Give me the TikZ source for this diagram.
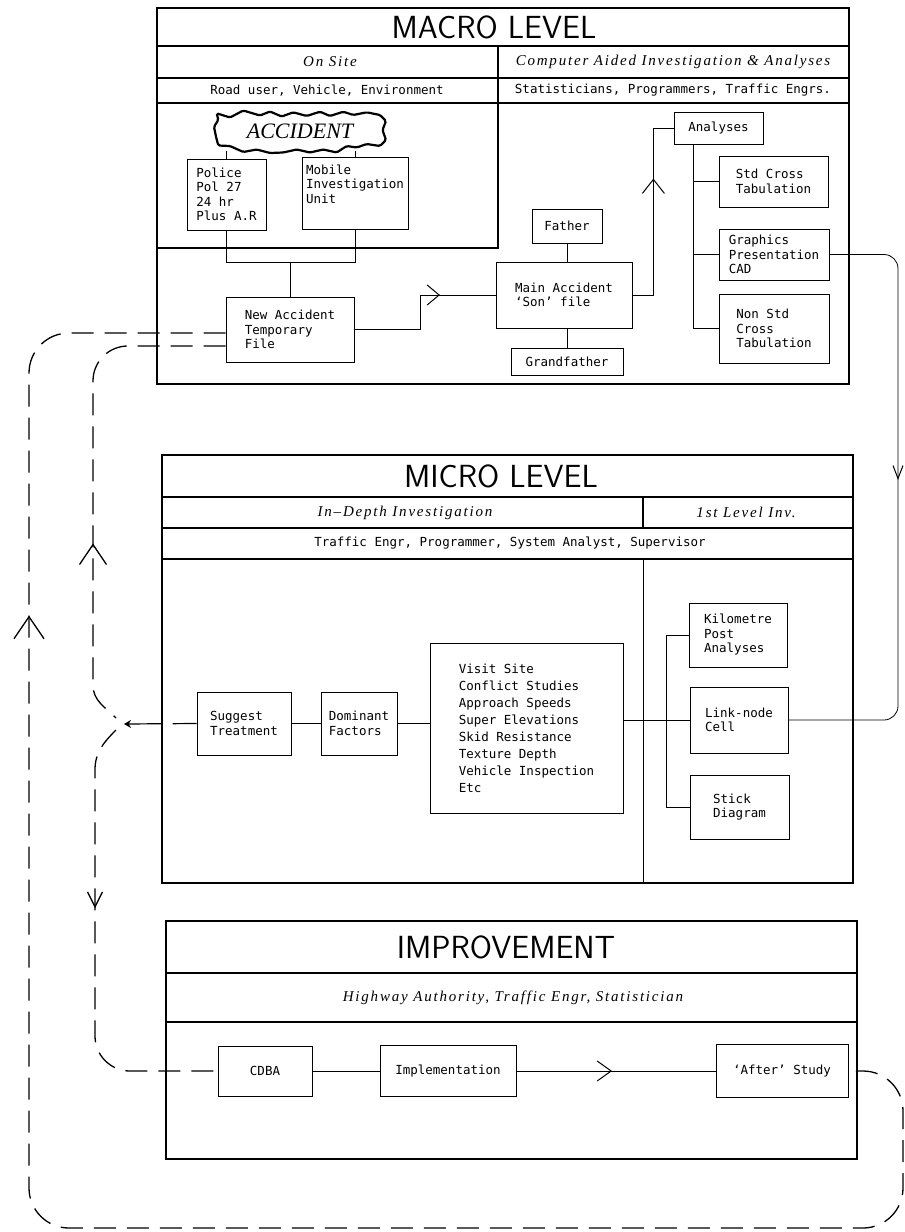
\documentclass[tikz,border=0pt]{standalone}
\usepackage{fontspec}
\newfontfamily\cadfont{DejaVu Sans Mono}
\newfontfamily\subfont[LetterSpace=12]{Liberation Serif}
\newfontfamily\bigfont{Liberation Serif}
\usetikzlibrary{arrows.meta,decorations.markings,calc}
\tikzset{frm/.style={line width=1.8pt},
rowln/.style={line width=1.1pt},
lnk/.style={line width=0.8pt},
dsh/.style={line width=1.3pt, dash pattern=on 22pt off 11pt},
blk/.style 2 args={draw, line width=0.8pt, minimum width=#1, minimum height=#2,
  inner sep=0pt, align=left, font=\cadfont\fontsize{12.5}{14.5}\selectfont},
ttl/.style={font=\sffamily\fontsize{32}{34}\selectfont},
sub/.style={font=\subfont\itshape\fontsize{15}{17}\selectfont},
who/.style={font=\cadfont\fontsize{12.5}{14.5}\selectfont},
midtip/.style 2 args={postaction={decorate, decoration={markings,
  mark=at position #1 with {\arrow{#2}}}}},
midrev/.style 2 args={postaction={decorate, decoration={markings,
  mark=at position #1 with {\arrowreversed{#2}}}}}
}

\begin{document}
\begin{tikzpicture}[x=1pt, y=-1pt]
        \useasboundingbox (0,0) rectangle (905,1232);

        % macro level
        \draw[frm] (157,8) rectangle (849,384);
        \draw[rowln] (157,46) -- (849,46) (157,78) -- (849,78) (157,103) -- (849,103);
        \draw[frm] (498,46) -- (498,248) -- (157,248);
        \node[ttl] (macro) at (494,27) {MACRO LEVEL};
        \node[sub] (onsite) at (330,62) {On Site};
        \node[sub] (caia) at (673,62) {Computer Aided Investigation \& Analyses};
        \node[who] (who1) at (327,90.5) {Road user, Vehicle, Environment};
        \node[who] (who2) at (673,90.5) {Statisticians, Programmers, Traffic Engrs.};

        \node[font=\bigfont\itshape\fontsize{22}{24}\selectfont, minimum width=170pt,
              minimum height=40pt] (accident) at (300,131) {ACCIDENT};
        \draw[line width=2.2pt, rounded corners=1.5pt] (216.7,113.3) -- (230,117.5) -- (243.3,110.5)
              -- (260,115.5) -- (270,111.5) -- (281.7,116.5) -- (293.3,112.3) -- (306.7,116)
              -- (320,111.7) -- (330,116) -- (343.3,111.7) -- (353.3,115) -- (366.7,112.3)
              -- (380,115) -- (386,121) -- (382.5,130) -- (386,140) -- (380,146) -- (366.7,144)
              -- (356.7,147.5) -- (346.7,146) -- (336.7,152.5) -- (323.3,149.5) -- (310,152.5)
              -- (296.7,149.5) -- (283.3,152.5) -- (270,153) -- (256.7,149.5) -- (243.3,152)
              -- (230,146) -- (218.3,145.5) -- (216,136.7) -- (214,126.7) -- (218.3,120) -- cycle;

        \node[blk={79pt}{71pt}]  (police) at (226.5,194.5) {Police\\Pol 27\\24 hr\\Plus A.R};
        \node[blk={106pt}{72pt}] (mobile) at (355,193) {Mobile\\Investigation\\Unit\\[4pt]};
        \node[blk={128pt}{65pt}] (newacc) at (290,329.5) {New Accident\\Temporary\\File};
        \node[blk={136pt}{66pt}] (main) at (564,295) {Main Accident\\‘Son’ file};
        \node[blk={70pt}{34pt}]  (father) at (567,226) {Father};
        \node[blk={112pt}{27pt}] (gfather) at (567,361.5) {Grandfather};
        \node[blk={89pt}{32pt}]  (analyses) at (718.5,128) {Analyses};
        \node[blk={109pt}{51pt}] (stdcross) at (773.5,181.5) {Std Cross\\Tabulation};
        \node[blk={110pt}{51pt}] (graphics) at (774,254.5) {Graphics\\Presentation\\CAD};
        \node[blk={110pt}{69pt}] (nonstd) at (774,328.5) {Non Std\\Cross\\Tabulation};
        \coordinate (atrunk) at (693,144);

        \draw[lnk] (police.north) -- (police.north |- accident.south)
                   (mobile.north) -- (mobile.north |- accident.south)
                   (police.south) -- ++(0,32) -| (mobile.south)
                   (newacc.north) -- ++(0,-35)
                   (father.south) -- (father.south |- main.north)
                   (gfather.north) -- (gfather.north |- main.south)
                   (atrunk) |- (stdcross.west)
                   (atrunk) |- (graphics.west)
                   (atrunk) |- (nonstd.west);
        \draw[lnk, midtip={0.683}{Straight Barb[length=12pt,width=20pt,line width=1pt]}]
              (newacc.east) -- ++(66,0) |- (main.west);
        \draw[lnk, midtip={0.66}{Straight Barb[length=14pt,width=22pt,line width=1pt]}]
              (main.east) -- ++(21,0) |- (analyses.west);

        % micro level
        \draw[frm] (162,455) rectangle (853,883);
        \draw[rowln] (162,497) -- (853,497) (162,528) -- (853,528) (162,559) -- (853,559)
                     (643,497) -- (643,528);
        \draw[lnk] (643,559) -- (643,883);
        \node[ttl] (micro) at (501,476) {MICRO LEVEL};
        \node[sub] (indepth) at (405,512.5) {In–Depth Investigation};
        \node[sub] (first) at (746,512.5) {1st Level Inv.};
        \node[who] (who3) at (510,543.5) {Traffic Engr, Programmer, System Analyst, Supervisor};

        \node[blk={94pt}{63pt}]   (suggest) at (244,723.5) {Suggest\\Treatment};
        \node[blk={76pt}{63pt}]   (dominant) at (359,723.5) {Dominant\\Factors};
        \node[blk={193pt}{170pt}, font=\cadfont\fontsize{12.5}{17}\selectfont]
              (visit) at (526.5,728) {Visit Site\\Conflict Studies\\Approach Speeds\\Super Elevations\\Skid Resistance\\Texture Depth\\Vehicle Inspection\\Etc};
        \node[blk={98pt}{64pt}]   (kilo) at (738,635) {Kilometre\\Post\\Analyses};
        \node[blk={98pt}{66pt}]   (linknode) at (739,720) {Link-node\\Cell};
        \node[blk={99pt}{64pt}]   (stick) at (739.5,807) {Stick\\Diagram};
        \coordinate (jn) at (124,724);

        \draw[lnk] (suggest) -- (dominant)
                   (dominant.east) -- (dominant.east -| visit.west)
                   (visit.east |- linknode.west) -- (linknode.west)
                   (kilo.west) -- ++(-22,0) |- (stick.west);
        \draw[lnk, rounded corners=14pt, midtip={0.456}{Straight Barb[length=13pt,width=10pt,line width=1pt]}]
              (graphics.east) -| (898,720) -- (linknode.east);
        \draw[line width=1.2pt, dash pattern=on 24pt off 10pt on 60pt off 0pt,
              -{Stealth[length=7pt,width=8pt]}] (suggest.west) -- (jn);

        % improvement
        \draw[frm] (166,921) rectangle (857,1159);
        \draw[rowln] (166,973) -- (857,973) (166,1022) -- (857,1022);
        \node[ttl] (improve) at (506,947) {IMPROVEMENT};
        \node[sub] (highway) at (513,997.5) {Highway Authority, Traffic Engr, Statistician};
        \node[blk={94pt}{50pt}]  (cdba) at (265,1071) {CDBA};
        \node[blk={136pt}{51pt}] (impl) at (448,1071) {Implementation};
        \node[blk={132pt}{53pt}] (after) at (782,1071) {‘After’ Study};
        \draw[lnk] (cdba) -- (impl);
        \draw[lnk, midtip={0.48}{Straight Barb[length=14pt,width=20pt,line width=1pt]}] (impl) -- (after);

        % feedback loops
        \coordinate (lc) at (29,1228);
        \coordinate (rc) at (903,1228);
        \draw[dsh, rounded corners=40pt, midrev={462pt}{Straight Barb[length=22pt,width=30pt,line width=1.3pt]}]
              ([yshift=-3.5pt]newacc.west) -| (lc) -- (rc) |- (after.east);
        \draw[dsh, midrev={315pt}{Straight Barb[length=20pt,width=27pt,line width=1.3pt]}]
              ([yshift=-16.5pt]newacc.west) -- (128,346) to[out=180,in=90] (93,381) -- (93,685)
              to[out=-90,in=135] ([xshift=-8pt,yshift=6pt]jn);
        \draw[dsh, midtip={185pt}{Straight Barb[length=15pt,width=15pt,line width=1.3pt]}]
              ([xshift=-8pt,yshift=-6pt]jn) to[out=-135,in=90] (95,770) -- (95,1036)
              to[out=-90,in=180] (130,1071) -- (cdba.west);
\end{tikzpicture}
\end{document}
